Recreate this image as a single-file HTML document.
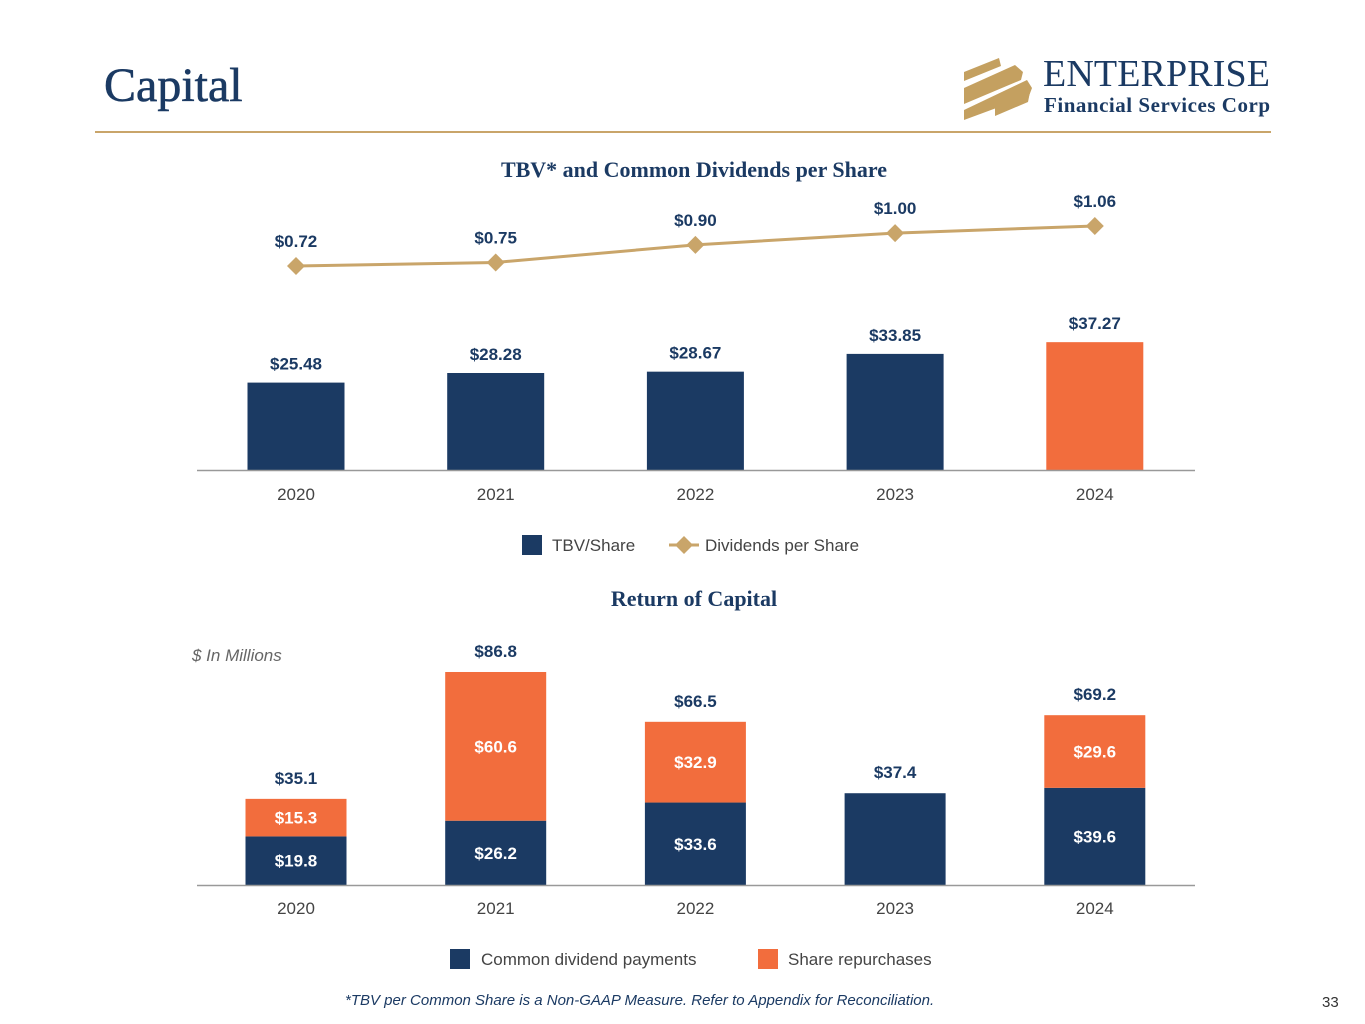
<!DOCTYPE html>
<html><head><meta charset="utf-8"><style>
body{margin:0;width:1365px;height:1024px;background:#fff;overflow:hidden;position:relative;font-family:"Liberation Sans",sans-serif}
.t{position:absolute}
</style></head><body>
<div class="t" style="left:104px;top:58px;font:48px 'Liberation Serif',serif;color:#1b3a63;-webkit-text-stroke:0.6px #1b3a63">Capital</div>
<div class="t" style="left:95px;top:131px;width:1176px;height:2px;background:#c9a56a"></div>
<svg class="t" style="left:955px;top:50px" width="320" height="80">
 <g fill="#c4a060">
  <polygon points="9,22 44,8 46,16 9,31"/>
  <polygon points="9,38 60,15 68,22 66,30 9,54"/>
  <polygon points="9,60 72,30 77,38 74,46 9,70"/>
  <polygon points="40,58 75,42 73,52 40,66"/>
 </g>
 <text x="88" y="36" font-family="Liberation Serif" font-size="38" fill="#1b3a63" textLength="227">ENTERPRISE</text>
 <text x="89" y="62" font-family="Liberation Serif" font-size="21" font-weight="bold" fill="#1b3a63" textLength="226">Financial Services Corp</text>
</svg>
<svg class="t" id="c1" style="left:0;top:0" width="1365" height="1024"></svg>
<div class="t" style="left:345px;top:992px;font:italic 15px 'Liberation Sans',sans-serif;color:#1b3a63">*TBV per Common Share is a Non-GAAP Measure. Refer to Appendix for Reconciliation.</div>
<div class="t" style="left:1322px;top:994px;font:15px 'Liberation Sans',sans-serif;color:#333">33</div>
<script>
const years=["2020","2021","2022","2023","2024"];
const tbv=[25.48,28.28,28.67,33.85,37.27];
const dps=[0.72,0.75,0.90,1.00,1.06];
const divPay=[19.8,26.2,33.6,37.4,39.6];
const repurch=[15.3,60.6,32.9,0,29.6];
const NAVY="#1b3a63",OR="#f26d3d",GOLD="#c9a56a";
const svg=document.getElementById('c1');
function el(tag,attrs,name,inter){const e=document.createElementNS('http://www.w3.org/2000/svg',tag);for(const k in attrs)e.setAttribute(k,attrs[k]);


svg.appendChild(e);return e;}
function txt(x,y,s,name,o){const e=el('text',Object.assign({x:x,y:y,'text-anchor':'middle','font-family':'Liberation Sans','font-size':17,fill:NAVY},o||{}),name);e.textContent=s;return e;}
const xc=i=>296+i*199.7;
// chart 1
txt(694,177,"TBV* and Common Dividends per Share","chart1-title",{'font-family':'Liberation Serif','font-size':22,'font-weight':'bold'});
const y1=v=>470-v*3.43;
const yd=v=>266-(v-0.72)*117.6;
tbv.forEach((v,i)=>{el('rect',{x:xc(i)-48.5,y:y1(v),width:97,height:470-y1(v),fill:i==4?OR:NAVY},'tbv-bar-'+years[i]);
 txt(xc(i),y1(v)-13,"$"+v.toFixed(2),'tbv-label-'+years[i],{'font-weight':'bold'});
 txt(xc(i),500,years[i],'x-tick-'+years[i],{fill:'#444'});});
el('line',{x1:197,y1:470.5,x2:1195,y2:470.5,stroke:'#999','stroke-width':1.5},'x-axis');
el('polyline',{points:dps.map((v,i)=>xc(i)+','+yd(v)).join(' '),fill:'none',stroke:GOLD,'stroke-width':3},'dividends-line');
dps.forEach((v,i)=>{const x=xc(i),y=yd(v);el('polygon',{points:`${x},${y-9} ${x+9},${y} ${x},${y+9} ${x-9},${y}`,fill:GOLD},'dividend-marker-'+years[i]);
 txt(x,y-19,"$"+v.toFixed(2),'dividend-label-'+years[i],{'font-weight':'bold'});});
el('rect',{x:522,y:535,width:20,height:20,fill:NAVY},'legend-tbv-swatch');
txt(552,551,"TBV/Share",'legend-tbv',{'text-anchor':'start',fill:'#444'});
el('line',{x1:669,y1:545,x2:699,y2:545,stroke:GOLD,'stroke-width':3},'legend-div-line');
el('polygon',{points:'684,536 693,545 684,554 675,545',fill:GOLD},'legend-div-marker');
txt(705,551,"Dividends per Share",'legend-dividends',{'text-anchor':'start',fill:'#444'});
// chart 2
txt(694,606,"Return of Capital","chart2-title",{'font-family':'Liberation Serif','font-size':22,'font-weight':'bold'});
txt(192,661,"$ In Millions","units-note",{'text-anchor':'start','font-style':'italic',fill:'#666'});
const y2=v=>885-v*2.454;
years.forEach((yr,i)=>{const x=xc(i),d=divPay[i],r=repurch[i];
 el('rect',{x:x-50.5,y:y2(d),width:101,height:885-y2(d),fill:NAVY},'dividend-payment-bar-'+yr);
 if(r>0){el('rect',{x:x-50.5,y:y2(d+r),width:101,height:y2(d)-y2(d+r),fill:OR},'repurchase-bar-'+yr);
  txt(x,(y2(d)+y2(d+r))/2+6,"$"+r.toFixed(1),'repurchase-label-'+yr,{'font-weight':'bold',fill:'#fff'});
  txt(x,(y2(d)+885)/2+6,"$"+d.toFixed(1),'dividend-payment-label-'+yr,{'font-weight':'bold',fill:'#fff'});}
 txt(x,y2(d+r)-15,"$"+(d+r).toFixed(1),'total-label-'+yr,{'font-weight':'bold'});
 txt(x,914,yr,'x2-tick-'+yr,{fill:'#444'});});
el('line',{x1:197,y1:885.5,x2:1195,y2:885.5,stroke:'#999','stroke-width':1.5},'x2-axis');
el('rect',{x:450,y:949,width:20,height:20,fill:NAVY},'legend-divpay-swatch');
txt(481,965,"Common dividend payments",'legend-divpay',{'text-anchor':'start',fill:'#444'});
el('rect',{x:758,y:949,width:20,height:20,fill:OR},'legend-repurch-swatch');
txt(788,965,"Share repurchases",'legend-repurch',{'text-anchor':'start',fill:'#444'});
</script>
</body></html>
